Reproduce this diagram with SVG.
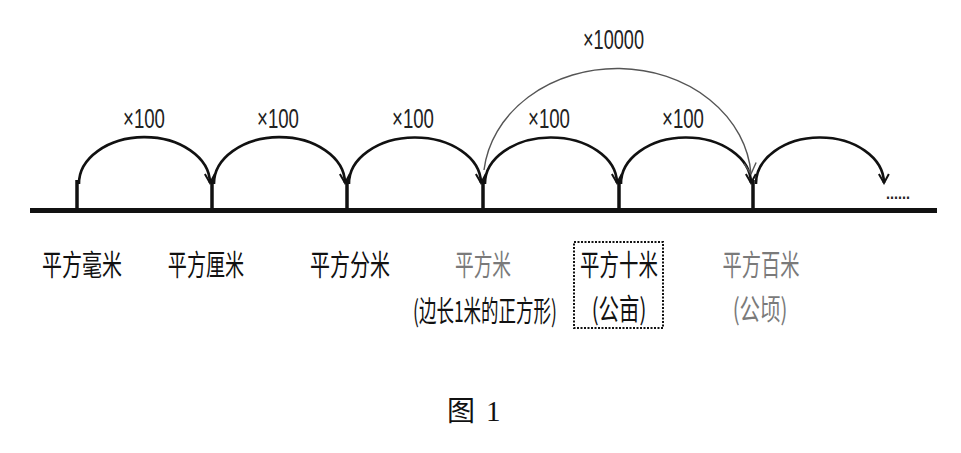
<svg xmlns="http://www.w3.org/2000/svg" width="961" height="453" viewBox="0 0 961 453">
<style>
.arc{fill:none;stroke:#111;stroke-width:2.6}
.big{fill:none;stroke:#555;stroke-width:1.4}
.tick{stroke:#111;stroke-width:3.5}
.lbl{font-family:"Liberation Sans","Noto Sans CJK SC",sans-serif;font-size:27px;fill:#222}
.cn{font-family:"Noto Sans CJK SC",sans-serif;font-size:29px;text-anchor:middle}
.blk{fill:#111}
.gry{fill:#7a7a7a}
</style>
<defs>
<marker id="ah" markerWidth="12" markerHeight="12" refX="10" refY="6" orient="auto" markerUnits="userSpaceOnUse">
<polyline points="1,1 10,6 1,11" fill="none" stroke="#111" stroke-width="2"/>
</marker>
<marker id="ah2" markerWidth="14" markerHeight="14" refX="12" refY="7" orient="auto" markerUnits="userSpaceOnUse">
<polyline points="1,1 12,7 1,13" fill="none" stroke="#555" stroke-width="1.4"/>
</marker>
</defs>
<rect width="961" height="453" fill="#fff"/>
<g id="axis">
<rect x="30" y="208" width="907" height="5" fill="#111"/>
<line class="tick" x1="77" y1="180" x2="77" y2="210"/>
<line class="tick" x1="212" y1="180" x2="212" y2="210"/>
<line class="tick" x1="347" y1="180" x2="347" y2="210"/>
<line class="tick" x1="483" y1="180" x2="483" y2="210"/>
<line class="tick" x1="619" y1="180" x2="619" y2="210"/>
<line class="tick" x1="753" y1="180" x2="753" y2="210"/>
<text x="886" y="199" font-family="Liberation Sans,sans-serif" font-size="16" font-weight="bold" fill="#222" textLength="24" lengthAdjust="spacingAndGlyphs">......</text>
</g>
<g id="connectors">
<path class="arc" d="M79,184 A65,46 0 0 1 210,183" marker-end="url(#ah)"/>
<path class="arc" d="M214,184 A65,46 0 0 1 345,183" marker-end="url(#ah)"/>
<path class="arc" d="M349,184 A66,46 0 0 1 481,183" marker-end="url(#ah)"/>
<path class="arc" d="M485,184 A66,46 0 0 1 617,183" marker-end="url(#ah)"/>
<path class="arc" d="M621,184 A65,46 0 0 1 751,183" marker-end="url(#ah)"/>
<path class="arc" d="M756,184 A64,46 0 0 1 884,183" marker-end="url(#ah)"/>
<path class="big" d="M484,170 A134,113 0 0 1 751,174" marker-end="url(#ah2)"/>
</g>
<g id="multipliers">
<text class="lbl" x="123" y="128" textLength="42" lengthAdjust="spacingAndGlyphs">×100</text>
<text class="lbl" x="257" y="128" textLength="42" lengthAdjust="spacingAndGlyphs">×100</text>
<text class="lbl" x="392" y="128" textLength="42" lengthAdjust="spacingAndGlyphs">×100</text>
<text class="lbl" x="528" y="128" textLength="42" lengthAdjust="spacingAndGlyphs">×100</text>
<text class="lbl" x="662" y="128" textLength="42" lengthAdjust="spacingAndGlyphs">×100</text>
<text class="lbl" x="583" y="49" textLength="61" lengthAdjust="spacingAndGlyphs" fill="#444">×10000</text>
</g>
<g id="n1"><text class="cn blk" transform="translate(82,276) scale(0.72,1)" textLength="111" lengthAdjust="spacingAndGlyphs">平方毫米</text></g>
<g id="n2"><text class="cn blk" transform="translate(206,276) scale(0.72,1)" textLength="106" lengthAdjust="spacingAndGlyphs">平方厘米</text></g>
<g id="n3"><text class="cn blk" transform="translate(350,276) scale(0.72,1)" textLength="111" lengthAdjust="spacingAndGlyphs">平方分米</text></g>
<g id="n4">
<text class="cn gry" transform="translate(483,276) scale(0.72,1)" textLength="78" lengthAdjust="spacingAndGlyphs">平方米</text>
<text class="cn blk" transform="translate(485,322) scale(0.72,1)" textLength="200" lengthAdjust="spacingAndGlyphs">(边长1米的正方形)</text>
</g>
<g id="n5">
<rect x="574" y="242" width="89" height="86" fill="none" stroke="#111" stroke-width="2" stroke-dasharray="2,1.5"/>
<text class="cn blk" transform="translate(619,276) scale(0.72,1)" textLength="108" lengthAdjust="spacingAndGlyphs">平方十米</text>
<text class="cn blk" transform="translate(619,320) scale(0.72,1)" textLength="76" lengthAdjust="spacingAndGlyphs">(公亩)</text>
</g>
<g id="n6">
<text class="cn gry" transform="translate(761,276) scale(0.72,1)" textLength="107" lengthAdjust="spacingAndGlyphs">平方百米</text>
<text class="cn gry" transform="translate(760,320) scale(0.72,1)" textLength="76" lengthAdjust="spacingAndGlyphs">(公顷)</text>
</g>
<g id="caption">
<text x="447" y="421" font-family="'Liberation Serif','Noto Sans CJK SC',serif" font-size="28" fill="#111">图</text>
<text x="486" y="421" font-family="'Liberation Serif',serif" font-size="29" fill="#111">1</text>
</g>
</svg>
